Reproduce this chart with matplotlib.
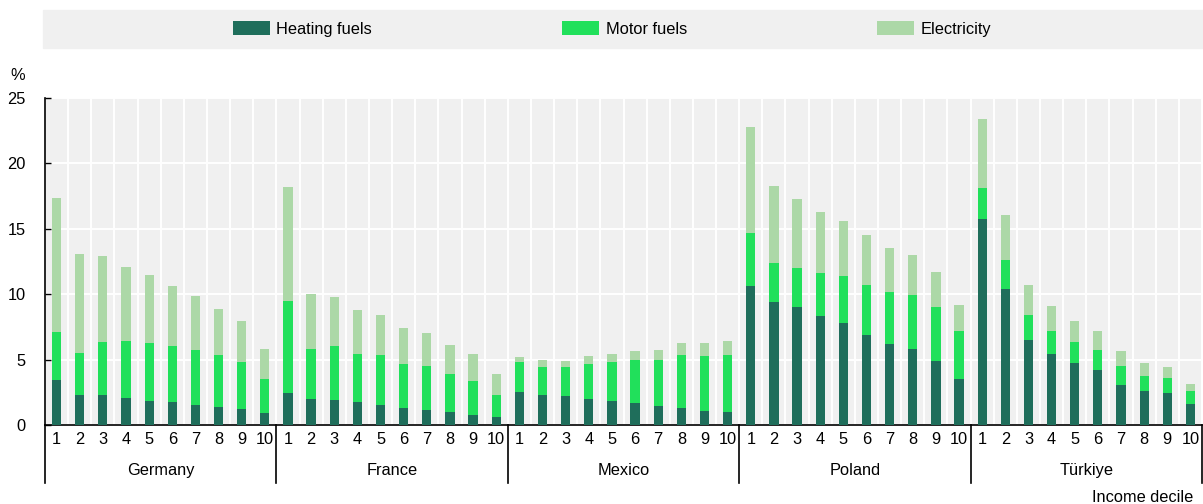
import numpy as np
import matplotlib.pyplot as plt
from matplotlib.patches import Rectangle
import matplotlib.transforms as mtransforms

plt.rcParams['font.family'] = ['Liberation Sans', 'DejaVu Sans']

countries = ["Germany", "France", "Mexico", "Poland", "Türkiye"]
deciles = [str(i) for i in range(1, 11)]

# stacked tops (% of income): heating, heating+motor, total
heating = {
    "Germany": [3.45, 2.3, 2.3, 2.07, 1.84, 1.74, 1.5, 1.4, 1.25, 0.94],
    "France": [2.47, 1.99, 1.94, 1.74, 1.53, 1.32, 1.17, 1.02, 0.79, 0.64],
    "Mexico": [2.55, 2.32, 2.19, 2.01, 1.81, 1.66, 1.48, 1.32, 1.09, 1.02],
    "Poland": [10.66, 9.43, 9.05, 8.36, 7.83, 6.91, 6.22, 5.81, 4.92, 3.5],
    "Türkiye": [15.78, 10.38, 6.53, 5.46, 4.77, 4.18, 3.06, 2.62, 2.47, 1.63],
}
heat_motor = {
    "Germany": [7.14, 5.53, 6.35, 6.43, 6.27, 6.07, 5.74, 5.33, 4.85, 3.52],
    "France": [9.49, 5.84, 6.02, 5.43, 5.36, 4.69, 4.51, 3.93, 3.37, 2.32],
    "Mexico": [4.8, 4.44, 4.44, 4.64, 4.8, 5.0, 5.0, 5.36, 5.3, 5.38],
    "Poland": [14.69, 12.39, 12.04, 11.65, 11.42, 10.71, 10.2, 9.95, 9.05, 7.21],
    "Türkiye": [18.13, 12.62, 8.44, 7.21, 6.35, 5.76, 4.51, 3.77, 3.62, 2.6],
}
total = {
    "Germany": [17.37, 13.08, 12.93, 12.09, 11.5, 10.61, 9.87, 8.87, 7.96, 5.79],
    "France": [18.2, 10.02, 9.79, 8.8, 8.39, 7.44, 7.04, 6.12, 5.41, 3.93],
    "Mexico": [5.2, 4.97, 4.87, 5.3, 5.41, 5.69, 5.76, 6.27, 6.3, 6.4],
    "Poland": [22.82, 18.29, 17.29, 16.3, 15.61, 14.54, 13.54, 13.0, 11.71, 9.18],
    "Türkiye": [23.41, 16.07, 10.73, 9.13, 7.96, 7.21, 5.66, 4.72, 4.46, 3.16],
}

c_heat = "#1f6e5b"
c_motor = "#21e05b"
c_elec = "#acd8a7"
bg = "#f0f0f0"

heat_all = np.concatenate([heating[c] for c in countries])
motor_all = np.concatenate([heat_motor[c] for c in countries]) - heat_all
elec_all = np.concatenate([total[c] for c in countries]) - heat_all - motor_all
x = np.arange(len(heat_all))

fig = plt.figure(figsize=(12.03, 5.04), dpi=100)
ax = fig.add_axes([45 / 1203, 79 / 504, 1157 / 1203, 327 / 504])
ax.set_facecolor(bg)

w = 0.4
b1 = ax.bar(x, heat_all, w, color=c_heat, label="Heating fuels", zorder=3)
b2 = ax.bar(x, motor_all, w, bottom=heat_all, color=c_motor, label="Motor fuels", zorder=3)
b3 = ax.bar(x, elec_all, w, bottom=heat_all + motor_all, color=c_elec, label="Electricity", zorder=3)

ax.set_xlim(-0.5, len(x) - 0.5)
ax.set_ylim(0, 25)
ax.set_yticks([0, 5, 10, 15, 20, 25])
ax.tick_params(axis='y', direction='in', length=4, width=1, pad=14, labelsize=11.8)
ax.set_xticks(x)
ax.set_xticklabels(deciles * len(countries))
ax.tick_params(axis='x', length=0, pad=5, labelsize=11.8)
ax.set_xticks(np.arange(-0.5, len(x), 1.0), minor=True)
ax.tick_params(axis='x', which='minor', length=0)

ax.grid(True, axis='y', color='white', linewidth=1.4, zorder=0)
ax.grid(True, axis='x', which='minor', color='white', linewidth=1.4, zorder=0)
ax.set_axisbelow(True)

for s in ['top', 'right']:
    ax.spines[s].set_visible(False)
ax.spines['left'].set_linewidth(1.2)
ax.spines['bottom'].set_linewidth(1.2)

# group separators and country labels under the axis
trans = mtransforms.blended_transform_factory(ax.transData, ax.transAxes)
for i, c in enumerate(countries):
    left = i * 10 - 0.5
    ax.plot([left, left], [0, -0.178], transform=trans, color='black', lw=1.2, clip_on=False)
    ax.text(left + 5, -0.14, c, transform=trans, ha='center', va='center', fontsize=11.8)
ax.plot([len(x) - 0.5] * 2, [0, -0.178], transform=trans, color='black', lw=1.2, clip_on=False)

fig.text(18 / 1203, 1 - 75 / 504, "%", ha='center', va='center', fontsize=11.8)
fig.text(1193 / 1203, 1 - 497 / 504, "Income decile", ha='right', va='center', fontsize=11.8)

# legend strip
fig.patches.append(Rectangle((43 / 1203, 1 - 48 / 504), 1 - 43 / 1203, 38 / 504,
                             transform=fig.transFigure, color=bg, zorder=0))
fig.legend(handles=[b1, b2, b3], loc='center left', bbox_to_anchor=(233 / 1203, 1 - 29 / 504),
           ncol=3, frameon=False, fontsize=11.8, handlelength=2.25, handleheight=0.9,
           handletextpad=0.4, columnspacing=11.6, borderpad=0, borderaxespad=0)

fig.savefig("out.png", dpi=100)
